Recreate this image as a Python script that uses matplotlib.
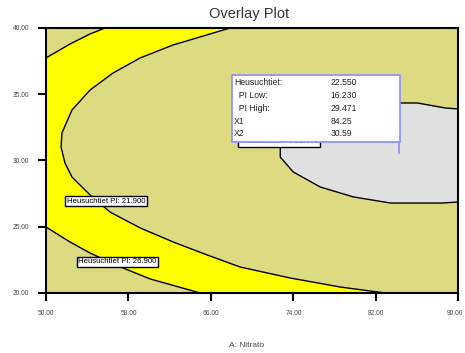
import matplotlib.pyplot as plt
from matplotlib.patches import Polygon, Rectangle
from matplotlib.transforms import ScaledTranslation

plt.rcParams['font.family'] = ['Liberation Sans', 'DejaVu Sans']

# boundaries (A: Nitrato on x, second factor on y)
outer_top_x = [50.00, 52.33, 54.27, 55.73]
outer_top_y = [37.74, 38.79, 39.55, 40.00]
outer_low_x = [50.00, 52.33, 54.27, 56.99, 60.10, 64.95]
outer_low_y = [24.98, 23.85, 23.02, 22.04, 21.06, 20.00]
inner_x = [67.86, 62.33, 59.13, 56.50, 54.27, 52.52, 51.55, 51.46, 51.84, 52.52,
           54.27, 56.21, 59.13, 62.33, 65.63, 68.83, 73.69, 78.54, 82.91]
inner_y = [40.00, 38.72, 37.74, 36.60, 35.32, 33.81, 32.08, 31.02, 29.81, 28.75,
           27.40, 26.11, 24.91, 23.85, 22.87, 21.96, 21.13, 20.45, 20.00]
grey_x = [90.00, 88.74, 86.02, 84.37, 80.49, 76.60, 73.69, 72.72, 72.72, 73.98,
          76.60, 79.81, 83.40, 88.45, 90.00]
grey_y = [33.89, 33.96, 34.34, 34.34, 34.11, 33.43, 32.30, 31.17, 30.26, 29.13,
          28.00, 27.25, 26.79, 26.79, 26.87]

x_ticks = [50, 58, 66, 74, 82, 90]
y_ticks = [20, 25, 30, 35, 40]

info_names = ["Heusuchtiet:", "  PI Low:", "  PI High:", "X1", "X2"]
info_values = ["22.550", "16.230", "29.471", "84.25", "30.59"]
x1, x2 = 84.25, 30.59

contour_labels = ["Heusuchtiet PI: 21.900", "Heusuchtiet PI: 26.900", "Heusuchtiet PI: 29.471"]
label_pos = [(55.83, 26.94), (56.94, 22.34), (72.62, 31.40)]

fig = plt.figure(figsize=(4.65, 3.53), dpi=100)
ax = fig.add_axes([0.0989, 0.17, 0.8871, 0.7507])
ax.set_xlim(50, 90)
ax.set_ylim(20, 40)
ax.set_facecolor('#DDDB82')

# yellow band between the two curves
band = list(zip(outer_top_x, outer_top_y)) + list(zip(inner_x, inner_y)) \
    + list(zip(outer_low_x[::-1], outer_low_y[::-1]))
ax.add_patch(Polygon(band, closed=True, facecolor='#FFFF00', edgecolor='none', zorder=1))
ax.add_patch(Polygon(list(zip(grey_x, grey_y)), closed=True, facecolor='#E0E0E0',
                     edgecolor='none', zorder=1))

ax.plot(outer_top_x, outer_top_y, color='black', lw=1, zorder=2)
ax.plot(outer_low_x, outer_low_y, color='black', lw=1, zorder=2)
ax.plot(inner_x, inner_y, color='black', lw=1, zorder=2)
ax.plot(grey_x, grey_y, color='black', lw=1, zorder=2)

for txt, (lx, ly) in zip(contour_labels, label_pos):
    ax.text(lx, ly, txt, fontsize=5.6, ha='center', va='center', zorder=3,
            bbox=dict(boxstyle='square,pad=0.2', facecolor='white', edgecolor='black', lw=1))

# flag box
ax.add_patch(Rectangle((68.06, 31.40), 84.37 - 68.06, 36.45 - 31.40, facecolor='white',
                       edgecolor='#8C8CFF', lw=1.2, zorder=5))
ax.plot([x1, x1], [31.40, x2], color='#8C8CFF', lw=1.2, zorder=5)
rows_y = [35.85, 34.94, 33.89, 32.91, 32.00]
for name, val, ry in zip(info_names, info_values, rows_y):
    ax.text(68.25, ry, name, fontsize=6.2, va='center', zorder=6, color='#222222')
    ax.text(77.57, ry, val, fontsize=6.2, va='center', zorder=6, color='#222222')

ax.set_xticks(x_ticks)
ax.set_yticks(y_ticks)
ax.set_xticklabels([f"{v:.2f}" for v in x_ticks])
ax.set_yticklabels([f"{v:.2f}" for v in y_ticks])
ax.tick_params(direction='out', length=6, width=1.5, labelsize=4.8, labelcolor='#444444', pad=6)
last = ax.get_xticklabels()[-1]
last.set_transform(last.get_transform() + ScaledTranslation(-0.04, 0, fig.dpi_scale_trans))
for s in ax.spines.values():
    s.set_linewidth(1.5)
    s.set_zorder(7)

fig.text(0.535, 0.96, "Overlay Plot", fontsize=10.5, ha='center', va='center', color='#333333')
fig.text(0.53, 0.022, "A: Nitrato", fontsize=6, ha='center', va='center', color='#444444')

fig.savefig('out.png', dpi=100)
